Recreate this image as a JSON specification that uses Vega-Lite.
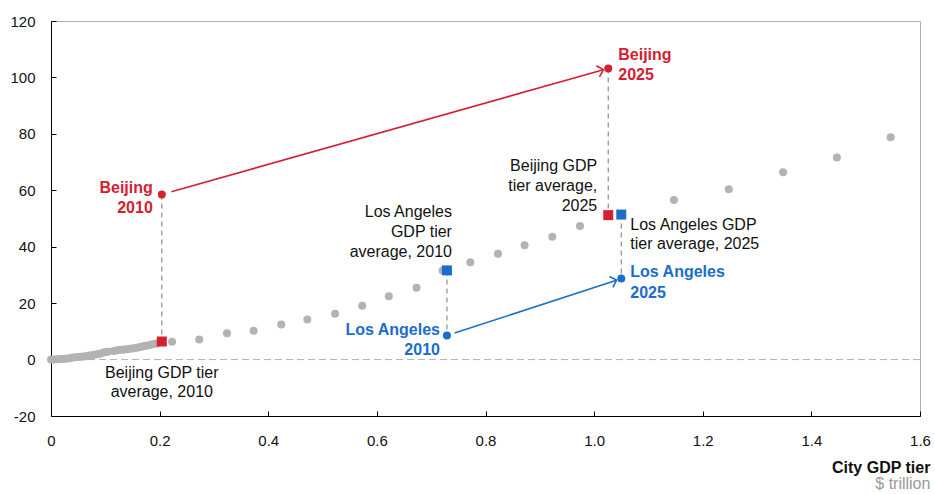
{
  "$schema": "https://vega.github.io/schema/vega-lite/v6.json",
  "autosize": {"type": "none"},
  "padding": {"left": 51, "top": 21, "right": 15, "bottom": 78},
  "width": 869,
  "height": 395,
  "background": "white",
  "config": {
    "font": "Liberation Sans",
    "view": {"stroke": "#b0b0b0", "strokeWidth": 1},
    "text": {"fontSize": 16, "lineBreak": "\n"}
  },
  "title": {
    "text": "City GDP tier",
    "subtitle": "$ trillion",
    "orient": "bottom",
    "anchor": "end",
    "frame": "bounds",
    "offset": 12,
    "fontSize": 16,
    "fontWeight": "bold",
    "color": "#111111",
    "subtitleFontSize": 16,
    "subtitleColor": "#999999",
    "subtitlePadding": 0
  },
  "encoding": {
    "x": {
      "type": "quantitative",
      "scale": {"domain": [0, 1.6], "nice": false, "zero": false},
      "axis": {
        "values": [0, 0.2, 0.4, 0.6, 0.8, 1.0, 1.2, 1.4, 1.6],
        "labelExpr": "datum.value == 0 ? '0' : format(datum.value, '.1f')",
        "title": null, "grid": false,
        "domainColor": "#000000", "tickColor": "#000000",
        "tickSize": -5, "labelPadding": 22,
        "labelFontSize": 15, "labelColor": "#111111", "labelFlush": false
      }
    },
    "y": {
      "type": "quantitative",
      "scale": {"domain": [-20, 120], "nice": false, "zero": false},
      "axis": {
        "values": [-20, 0, 20, 40, 60, 80, 100, 120],
        "labelExpr": "datum.value + ''",
        "title": null, "grid": false,
        "domainColor": "#000000", "tickColor": "#000000",
        "tickSize": -5, "labelPadding": 21,
        "labelFontSize": 15, "labelColor": "#111111", "labelFlush": false
      }
    }
  },
  "layer": [
    {
      "data": {"values": [{"zero": 0}]},
      "mark": {"type": "rule", "color": "#b3b3b3", "strokeDash": [7, 4], "strokeWidth": 1},
      "encoding": {"y": {"field": "zero", "type": "quantitative"}, "x": null}
    },
    {
      "data": {"values": [
        {"gdp": 0.0, "v": 0.0}, {"gdp": 0.005, "v": 0.0}, {"gdp": 0.01, "v": 0.1}, {"gdp": 0.015, "v": 0.1},
        {"gdp": 0.02, "v": 0.2}, {"gdp": 0.025, "v": 0.3}, {"gdp": 0.03, "v": 0.4}, {"gdp": 0.035, "v": 0.5},
        {"gdp": 0.04, "v": 0.7}, {"gdp": 0.045, "v": 0.8}, {"gdp": 0.05, "v": 0.9}, {"gdp": 0.055, "v": 1.0},
        {"gdp": 0.06, "v": 1.1}, {"gdp": 0.065, "v": 1.2}, {"gdp": 0.07, "v": 1.4}, {"gdp": 0.075, "v": 1.5},
        {"gdp": 0.08, "v": 1.7}, {"gdp": 0.085, "v": 1.9}, {"gdp": 0.09, "v": 2.1}, {"gdp": 0.095, "v": 2.4},
        {"gdp": 0.1, "v": 2.7}, {"gdp": 0.105, "v": 2.8},
        {"gdp": 0.115, "v": 3.0}, {"gdp": 0.12, "v": 3.2}, {"gdp": 0.125, "v": 3.4}, {"gdp": 0.13, "v": 3.5},
        {"gdp": 0.135, "v": 3.6}, {"gdp": 0.14, "v": 3.7}, {"gdp": 0.145, "v": 3.8}, {"gdp": 0.15, "v": 3.9},
        {"gdp": 0.155, "v": 4.1}, {"gdp": 0.16, "v": 4.3}, {"gdp": 0.165, "v": 4.5}, {"gdp": 0.17, "v": 4.7},
        {"gdp": 0.175, "v": 4.9}, {"gdp": 0.18, "v": 5.1}, {"gdp": 0.185, "v": 5.3}, {"gdp": 0.19, "v": 5.5},
        {"gdp": 0.195, "v": 5.7},
        {"gdp": 0.223, "v": 6.3}, {"gdp": 0.273, "v": 7.1}, {"gdp": 0.324, "v": 9.3}, {"gdp": 0.373, "v": 10.2},
        {"gdp": 0.424, "v": 12.4}, {"gdp": 0.472, "v": 14.2}, {"gdp": 0.523, "v": 16.2}, {"gdp": 0.573, "v": 19.1},
        {"gdp": 0.622, "v": 22.4}, {"gdp": 0.673, "v": 25.5}, {"gdp": 0.721, "v": 31.6}, {"gdp": 0.772, "v": 34.5},
        {"gdp": 0.823, "v": 37.5}, {"gdp": 0.872, "v": 40.5}, {"gdp": 0.923, "v": 43.5}, {"gdp": 0.974, "v": 47.3},
        {"gdp": 1.147, "v": 56.6}, {"gdp": 1.248, "v": 60.4}, {"gdp": 1.348, "v": 66.4}, {"gdp": 1.447, "v": 71.6},
        {"gdp": 1.546, "v": 78.8}
      ]},
      "mark": {"type": "circle", "color": "#b3b3b3", "opacity": 1, "size": 64},
      "encoding": {"x": {"field": "gdp", "type": "quantitative"}, "y": {"field": "v", "type": "quantitative"}}
    },
    {
      "data": {"values": [
        {"gdp": 0.204, "v": 58.5, "v2": 6.4},
        {"gdp": 1.026, "v": 103.2, "v2": 51.2},
        {"gdp": 0.729, "v": 31.6, "v2": 8.5},
        {"gdp": 1.05, "v": 51.4, "v2": 28.7}
      ]},
      "mark": {"type": "rule", "color": "#8c8c8c", "strokeDash": [5, 4], "strokeWidth": 1.2},
      "encoding": {
        "x": {"field": "gdp", "type": "quantitative"},
        "y": {"field": "v", "type": "quantitative"},
        "y2": {"field": "v2"}
      }
    },
    {
      "data": {"values": [{"gdp": 0.2217, "v": 59.47, "gdp2": 1.0171, "v2": 102.72}]},
      "mark": {"type": "rule", "color": "#d42030", "strokeWidth": 1.6},
      "encoding": {
        "x": {"field": "gdp", "type": "quantitative"}, "y": {"field": "v", "type": "quantitative"},
        "x2": {"field": "gdp2"}, "y2": {"field": "v2"}
      }
    },
    {
      "data": {"values": [{"gdp": 0.743, "v": 9.38, "gdp2": 1.0413, "v2": 28.15}]},
      "mark": {"type": "rule", "color": "#1a6dcc", "strokeWidth": 1.6},
      "encoding": {
        "x": {"field": "gdp", "type": "quantitative"}, "y": {"field": "v", "type": "quantitative"},
        "x2": {"field": "gdp2"}, "y2": {"field": "v2"}
      }
    },
    {
      "data": {"values": [{"gdp": 1.0171, "v": 102.72}]},
      "mark": {"type": "point", "shape": "M-1,-1L0,0L-1,1", "filled": false, "stroke": "#d42030", "strokeWidth": 1.6, "size": 130, "angle": -15.8, "opacity": 1},
      "encoding": {"x": {"field": "gdp", "type": "quantitative"}, "y": {"field": "v", "type": "quantitative"}}
    },
    {
      "data": {"values": [{"gdp": 1.0413, "v": 28.15}]},
      "mark": {"type": "point", "shape": "M-1,-1L0,0L-1,1", "filled": false, "stroke": "#1a6dcc", "strokeWidth": 1.6, "size": 130, "angle": -18.1, "opacity": 1},
      "encoding": {"x": {"field": "gdp", "type": "quantitative"}, "y": {"field": "v", "type": "quantitative"}}
    },
    {
      "data": {"values": [
        {"city": "Beijing", "gdp": 0.204, "v": 58.5},
        {"city": "Beijing", "gdp": 1.026, "v": 103.2},
        {"city": "Los Angeles", "gdp": 0.729, "v": 8.5},
        {"city": "Los Angeles", "gdp": 1.05, "v": 28.7}
      ]},
      "mark": {"type": "circle", "opacity": 1, "size": 64},
      "encoding": {
        "x": {"field": "gdp", "type": "quantitative"}, "y": {"field": "v", "type": "quantitative"},
        "color": {"field": "city", "type": "nominal", "scale": {"domain": ["Beijing", "Los Angeles"], "range": ["#d42030", "#1a6dcc"]}, "legend": null}
      }
    },
    {
      "data": {"values": [
        {"city": "Beijing", "gdp": 0.204, "v": 6.4},
        {"city": "Beijing", "gdp": 1.026, "v": 51.2},
        {"city": "Los Angeles", "gdp": 0.729, "v": 31.6},
        {"city": "Los Angeles", "gdp": 1.05, "v": 51.4}
      ]},
      "mark": {"type": "square", "opacity": 1, "size": 100},
      "encoding": {
        "x": {"field": "gdp", "type": "quantitative"}, "y": {"field": "v", "type": "quantitative"},
        "color": {"field": "city", "type": "nominal", "scale": {"domain": ["Beijing", "Los Angeles"], "range": ["#d42030", "#1a6dcc"]}, "legend": null}
      }
    },
    {
      "data": {"values": [{"label": "Beijing\n2010", "gdp": 0.204, "v": 58.5}]},
      "mark": {"type": "text", "align": "right", "baseline": "middle", "dx": -9, "dy": -7, "fontWeight": "bold", "color": "#d42030", "lineHeight": 20},
      "encoding": {"x": {"field": "gdp", "type": "quantitative"}, "y": {"field": "v", "type": "quantitative"}, "text": {"field": "label"}}
    },
    {
      "data": {"values": [{"label": "Beijing\n2025", "gdp": 1.026, "v": 103.2}]},
      "mark": {"type": "text", "align": "left", "baseline": "middle", "dx": 10, "dy": -13, "fontWeight": "bold", "color": "#d42030", "lineHeight": 20},
      "encoding": {"x": {"field": "gdp", "type": "quantitative"}, "y": {"field": "v", "type": "quantitative"}, "text": {"field": "label"}}
    },
    {
      "data": {"values": [{"label": "Los Angeles\n2010", "gdp": 0.729, "v": 8.5}]},
      "mark": {"type": "text", "align": "right", "baseline": "middle", "dx": -7, "dy": -6, "fontWeight": "bold", "color": "#1a6dcc", "lineHeight": 20},
      "encoding": {"x": {"field": "gdp", "type": "quantitative"}, "y": {"field": "v", "type": "quantitative"}, "text": {"field": "label"}}
    },
    {
      "data": {"values": [{"label": "Los Angeles\n2025", "gdp": 1.05, "v": 28.7}]},
      "mark": {"type": "text", "align": "left", "baseline": "middle", "dx": 9, "dy": -7, "fontWeight": "bold", "color": "#1a6dcc", "lineHeight": 21},
      "encoding": {"x": {"field": "gdp", "type": "quantitative"}, "y": {"field": "v", "type": "quantitative"}, "text": {"field": "label"}}
    },
    {
      "data": {"values": [{"label": "Beijing GDP tier\naverage, 2010", "gdp": 0.204, "v": 6.4}]},
      "mark": {"type": "text", "align": "center", "baseline": "middle", "dx": 0, "dy": 31, "color": "#111111", "lineHeight": 19},
      "encoding": {"x": {"field": "gdp", "type": "quantitative"}, "y": {"field": "v", "type": "quantitative"}, "text": {"field": "label"}}
    },
    {
      "data": {"values": [{"label": "Los Angeles\nGDP tier\naverage, 2010", "gdp": 0.729, "v": 31.6}]},
      "mark": {"type": "text", "align": "right", "baseline": "middle", "dx": 5, "dy": -58, "color": "#111111", "lineHeight": 20},
      "encoding": {"x": {"field": "gdp", "type": "quantitative"}, "y": {"field": "v", "type": "quantitative"}, "text": {"field": "label"}}
    },
    {
      "data": {"values": [{"label": "Beijing GDP\ntier average,\n2025", "gdp": 1.026, "v": 51.2}]},
      "mark": {"type": "text", "align": "right", "baseline": "middle", "dx": -11, "dy": -49, "color": "#111111", "lineHeight": 20},
      "encoding": {"x": {"field": "gdp", "type": "quantitative"}, "y": {"field": "v", "type": "quantitative"}, "text": {"field": "label"}}
    },
    {
      "data": {"values": [{"label": "Los Angeles GDP\ntier average, 2025", "gdp": 1.05, "v": 51.4}]},
      "mark": {"type": "text", "align": "left", "baseline": "middle", "dx": 9, "dy": 10, "color": "#111111", "lineHeight": 19},
      "encoding": {"x": {"field": "gdp", "type": "quantitative"}, "y": {"field": "v", "type": "quantitative"}, "text": {"field": "label"}}
    }
  ]
}
